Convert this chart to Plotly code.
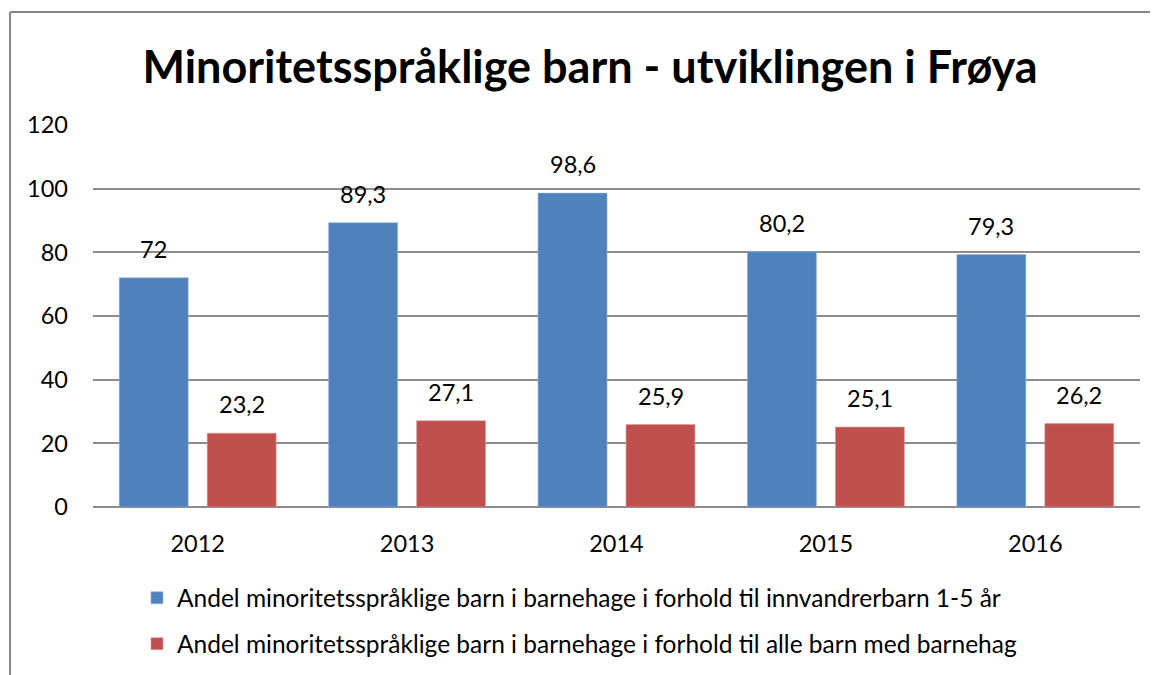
import plotly.graph_objects as go

years = ["2012", "2013", "2014", "2015", "2016"]
series1_name = "Andel minoritetsspråklige barn i barnehage i forhold til innvandrerbarn 1-5 år"
series2_name = "Andel minoritetsspråklige barn i barnehage i forhold til alle barn med barnehag"
series1 = [72, 89.3, 98.6, 80.2, 79.3]
series2 = [23.2, 27.1, 25.9, 25.1, 26.2]
title_text = "Minoritetsspråklige barn - utviklingen i Frøya"
y_ticks = [0, 20, 40, 60, 80, 100, 120]

FONT = "Lato"
BLUE = "#4F81BD"
RED = "#C0504D"
GRID = "#8C8C8C"
FS = 23.5

def fmt(v):
    return f"{v:g}".replace(".", ",")

fig = go.Figure()
fig.add_trace(go.Bar(x=years, y=series1, name=series1_name,
                     marker=dict(color=BLUE, line=dict(color="#8FB0DA", width=0.6)), legendgroup="a"))
fig.add_trace(go.Bar(x=years, y=series2, name=series2_name,
                     marker=dict(color=RED, line=dict(color="#E09A98", width=0.6)), legendgroup="b"))

# data labels: category index on the category axis, shifted to each bar of the group
annotations = []
for i, v in enumerate(series1):
    annotations.append(dict(x=i, y=v, xref="x", yref="y", text=fmt(v), showarrow=False,
                            xshift=-44, yshift=13, yanchor="bottom",
                            font=dict(family=FONT, size=FS, color="#000000")))
for i, v in enumerate(series2):
    annotations.append(dict(x=i, y=v, xref="x", yref="y", text=fmt(v), showarrow=False,
                            xshift=44, yshift=13, yanchor="bottom",
                            font=dict(family=FONT, size=FS, color="#000000")))

fig.update_layout(
    width=1158, height=675,
    margin=dict(l=85, r=26, t=117, b=176, autoexpand=False),
    paper_bgcolor="white", plot_bgcolor="white",
    font=dict(family=FONT, size=FS, color="#000000"),
    title=dict(text="<b>" + title_text + "</b>", x=582 / 1158, xanchor="center", y=1 - 59 / 675, yanchor="middle",
               font=dict(family=FONT, size=45, color="#000000")),
    barmode="group", bargap=0.16, bargroupgap=0.216,
    showlegend=True,
    legend=dict(x=0.042, y=-0.179, xanchor="left", yanchor="top", orientation="v",
                tracegroupgap=11, font=dict(family=FONT, size=24.5, color="#000000"),
                bgcolor="rgba(0,0,0,0)"),
    annotations=annotations,
    hovermode=False,
)
fig.update_xaxes(type="category", range=[-0.5, len(years) - 0.5], showgrid=False, showline=False, ticks="",
                 ticklabelstandoff=20, tickfont=dict(family=FONT, size=FS, color="#000000"))
fig.update_yaxes(range=[0, 120], tickvals=y_ticks, showgrid=True, gridcolor=GRID, gridwidth=1.5,
                 zeroline=True, zerolinecolor=GRID, zerolinewidth=1.5, showline=False, ticks="",
                 ticklabelstandoff=24, tickfont=dict(family=FONT, size=FS, color="#000000"))

# chart border (left and top edges)
fig.add_shape(type="line", xref="paper", yref="paper", x0=-0.0793, x1=1.2, y0=1.2958, y1=1.2958,
              line=dict(color="#878787", width=2))
fig.add_shape(type="line", xref="paper", yref="paper", x0=-0.0793, x1=-0.0793, y0=1.2958, y1=-0.6,
              line=dict(color="#878787", width=2))

fig.write_html("out.html")
